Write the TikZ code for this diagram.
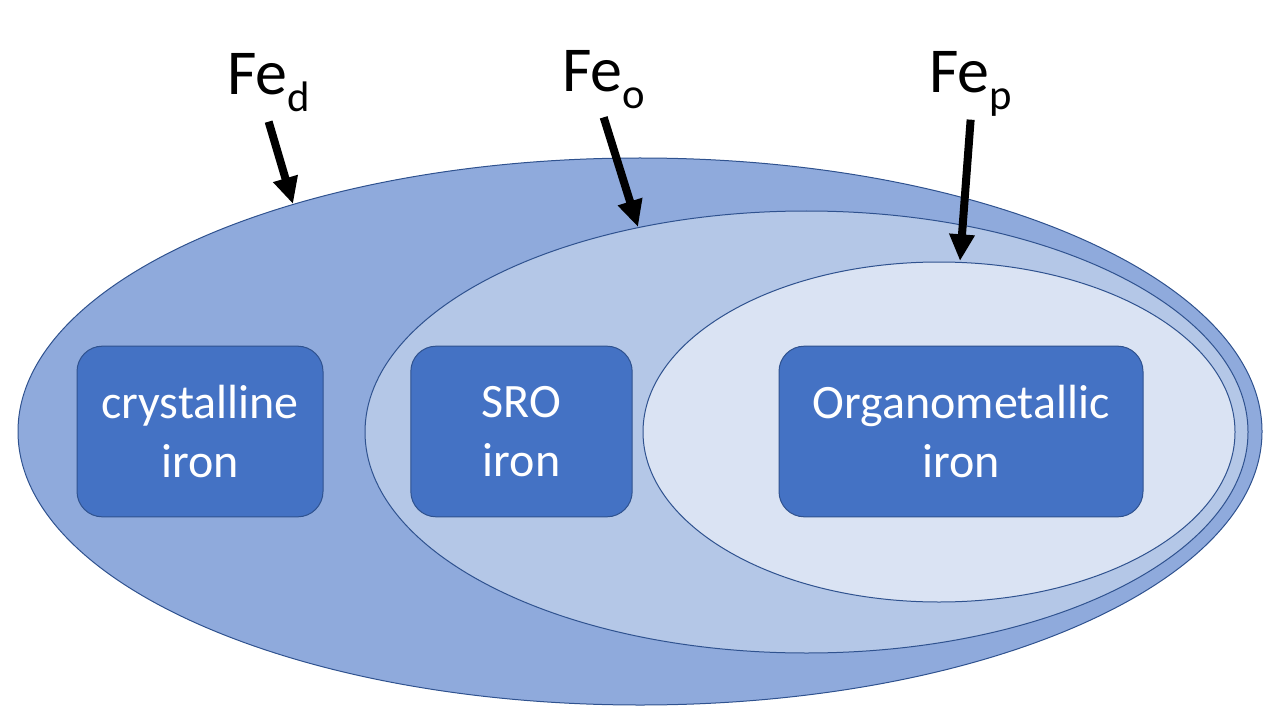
\documentclass[tikz,border=0pt]{standalone}
\usepackage{fontspec}
\setmainfont{Carlito}
\usetikzlibrary{positioning, arrows.meta}
\definecolor{outerfill}{HTML}{8FAADC}
\definecolor{midfill}{HTML}{B4C7E7}
\definecolor{innerfill}{HTML}{DAE3F3}
\definecolor{boxfill}{HTML}{4472C4}
\definecolor{edgec}{HTML}{2F528F}
\newcommand{\LabelF}{\fontsize{48}{58}\selectfont}
\newcommand{\SubF}{\fontsize{32}{38}\selectfont}
\newcommand{\BoxF}{\fontsize{36}{44}\selectfont}
\newcommand{\FeSub}[1]{Fe\raisebox{-12.75pt}{\SubF #1}}

\begin{document}
\begin{tikzpicture}[x=0.75pt, y=-0.75pt,
  pool/.style={draw=edgec, line width=0.75pt},
  ironbox/.style={draw=edgec, line width=0.75pt, fill=boxfill, rounded corners=19pt,
                  minimum height=128pt, text=white, align=center, font=\BoxF},
  felabel/.style={inner sep=0pt, anchor=base west, font=\LabelF},
  pointer/.style={line width=6pt, -{Triangle[length=20pt, width=18pt]}}]
  \useasboundingbox (0,0) rectangle (1280,720);

  % nested pools: Fe_d > Fe_o > Fe_p
  \draw[pool, fill=outerfill] (640,431.5) ellipse [x radius=622, y radius=273.5];
  \draw[pool, fill=midfill] (806.5,432) ellipse [x radius=441.5, y radius=221];
  \draw[pool, fill=innerfill] (939,432) ellipse [x radius=296, y radius=170];

  % iron forms
  \node[ironbox, minimum width=184.5pt] (cryst) at (200,431.5) {crystalline\\iron};
  \node[ironbox, minimum width=166pt] (sro) at (521.5,431.5) {SRO\\iron};
  \node[ironbox, minimum width=273pt] (organo) at (961,431.5) {Organometallic\\iron};

  % extraction labels
  \node[felabel] (fed) at (227,95) {\FeSub{d}};
  \node[felabel] (feo) at (562,92) {\FeSub{o}};
  \node[felabel] (fep) at (929,93) {\FeSub{p}};

  \coordinate (dtip) at (293,204);
  \coordinate (otip) at (638,227);
  \coordinate (ptip) at (960,261);

  \draw[pointer] ([yshift=-20pt]fed.base) -- (dtip);
  \draw[pointer] ([yshift=-19pt]feo.base) -- (otip);
  \draw[pointer] ([yshift=-20pt]fep.base) -- (ptip);
\end{tikzpicture}
\end{document}
